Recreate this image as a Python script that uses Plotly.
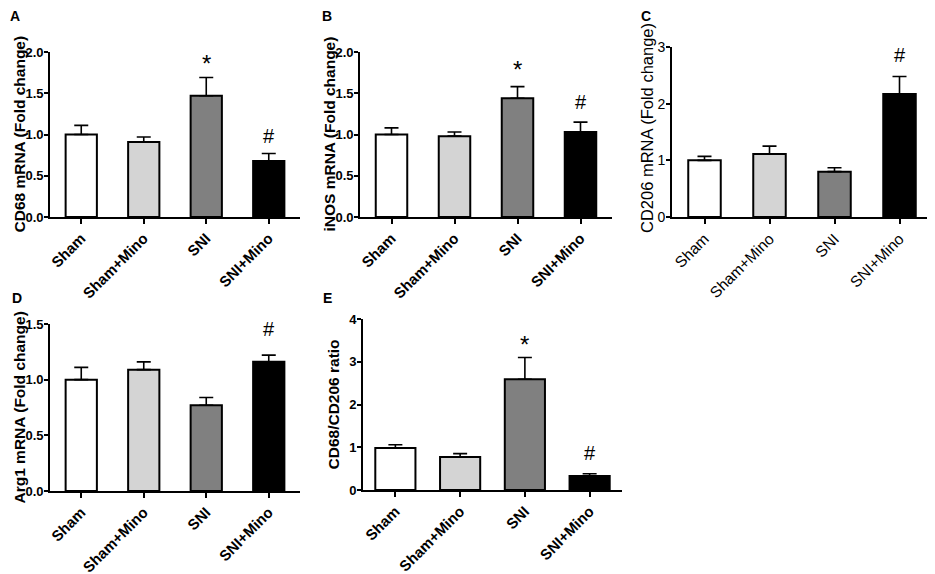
import plotly.graph_objects as go

W, H = 935, 574
OFF = 8  # page body margin offset of the rendered figure
FONT = "Arial, Liberation Sans, sans-serif"

categories = ["Sham", "Sham+Mino", "SNI", "SNI+Mino"]
bar_colors = ["#ffffff", "#d4d4d4", "#808080", "#000000"]

cd68_mean = [1.00, 0.91, 1.47, 0.68]
cd68_sem = [0.11, 0.06, 0.22, 0.09]
cd68_marks = ["", "", "*", "#"]

inos_mean = [1.00, 0.98, 1.44, 1.03]
inos_sem = [0.08, 0.05, 0.14, 0.12]
inos_marks = ["", "", "*", "#"]

cd206_mean = [1.00, 1.11, 0.80, 2.17]
cd206_sem = [0.07, 0.14, 0.07, 0.31]
cd206_marks = ["", "", "", "#"]

arg1_mean = [1.00, 1.09, 0.77, 1.16]
arg1_sem = [0.11, 0.07, 0.07, 0.06]
arg1_marks = ["", "", "", "#"]

ratio_mean = [0.98, 0.77, 2.59, 0.33]
ratio_sem = [0.08, 0.08, 0.51, 0.05]
ratio_marks = ["", "", "*", "#"]

panels = [
    dict(letter="A", title="CD68 mRNA (Fold change)", mean=cd68_mean, sem=cd68_sem, marks=cd68_marks,
         xd=(50, 300), yd=(52, 217), yr=(0, 2), dt=0.5, fmt=".1f", bold=True,
         lp=(15, 16), tx=19, ty=134.5, bw=0.5, shift={"*": -1, "#": 4}),
    dict(letter="B", title="iNOS mRNA (Fold change)", mean=inos_mean, sem=inos_sem, marks=inos_marks,
         xd=(360, 612), yd=(52, 217), yr=(0, 2), dt=0.5, fmt=".1f", bold=True,
         lp=(327, 16), tx=329, ty=134.5, bw=0.5, shift={"*": 2, "#": 7}),
    dict(letter="C", title="CD206 mRNA (Fold change)", mean=cd206_mean, sem=cd206_sem, marks=cd206_marks,
         xd=(672, 932), yd=(47, 217), yr=(0, 3), dt=1, fmt="d", bold=False,
         lp=(646, 16), tx=647, ty=128, bw=0.5, shift={"#": 8}),
    dict(letter="D", title="Arg1 mRNA (Fold change)", mean=arg1_mean, sem=arg1_sem, marks=arg1_marks,
         xd=(50, 300), yd=(324, 491), yr=(0, 1.5), dt=0.5, fmt=".1f", bold=True,
         lp=(17, 298), tx=19, ty=407.5, bw=0.5, shift={"#": 13}),
    dict(letter="E", title="CD68/CD206 ratio", mean=ratio_mean, sem=ratio_sem, marks=ratio_marks,
         xd=(363, 622), yd=(319, 490), yr=(0, 4), dt=1, fmt="d", bold=True,
         lp=(327, 298), tx=333, ty=404.5, bw=0.62, shift={"*": -3, "#": 8}),
]


def fx(px):
    return (px - OFF) / W


def fy(py):
    return 1 - (py - OFF) / H


fig = go.Figure()
annotations = []
layout = {}

for i, p in enumerate(panels, start=1):
    xa = "x" if i == 1 else f"x{i}"
    ya = "y" if i == 1 else f"y{i}"
    weight = "bold" if p["bold"] else "normal"
    fig.add_trace(go.Bar(
        x=categories, y=p["mean"], xaxis=xa, yaxis=ya, width=p["bw"],
        marker=dict(color=bar_colors, line=dict(color="black", width=2)),
        error_y=dict(type="data", array=p["sem"], arrayminus=[0] * 4, symmetric=False,
                     color="black", thickness=1.6, width=7),
        showlegend=False, hoverinfo="skip",
    ))
    xkey = "xaxis" if i == 1 else f"xaxis{i}"
    ykey = "yaxis" if i == 1 else f"yaxis{i}"
    layout[xkey] = dict(
        domain=[fx(p["xd"][0]), fx(p["xd"][1])], anchor=ya, type="category",
        range=[-0.5, 3.5], showline=True, linecolor="black", linewidth=1.6,
        ticks="outside", ticklen=5, tickwidth=1.6, tickcolor="black",
        tickangle=-45, showgrid=False, zeroline=False, automargin=False,
        tickfont=dict(family=FONT, size=15 if p["bold"] else 15.5, color="black", weight=weight),
    )
    layout[ykey] = dict(
        domain=[fy(p["yd"][1]), fy(p["yd"][0])], anchor=xa,
        range=list(p["yr"]), dtick=p["dt"], tick0=0, tickformat=p["fmt"],
        showline=True, linecolor="black", linewidth=1.6,
        ticks="outside", ticklen=4, tickwidth=1.6, tickcolor="black",
        ticklabelstandoff=-2,
        showgrid=False, zeroline=False, automargin=False,
        tickfont=dict(family=FONT, size=13 if p["bold"] else 14, color="black", weight=weight),
    )
    # y-axis title
    annotations.append(dict(
        text=p["title"], xref="paper", yref="paper",
        x=fx(p["tx"]), y=fy(p["ty"]),
        textangle=-90, showarrow=False, xanchor="center", yanchor="middle",
        font=dict(family=FONT, size=15.5 if p["bold"] else 16.5, color="black", weight=weight),
    ))
    # panel letter
    annotations.append(dict(
        text=p["letter"], xref="paper", yref="paper",
        x=fx(p["lp"][0]), y=fy(p["lp"][1]), showarrow=False,
        xanchor="center", yanchor="middle",
        font=dict(family=FONT, size=14, color="black", weight="bold"),
    ))
    # significance marks
    for c, m, s, mk in zip(categories, p["mean"], p["sem"], p["marks"]):
        if mk:
            annotations.append(dict(
                text=mk, xref=xa, yref=ya, x=c, y=m + s, showarrow=False,
                xanchor="center", yanchor="bottom", yshift=p["shift"][mk],
                font=dict(family=FONT, size=24 if mk == "*" else 20, color="black"),
            ))

fig.update_layout(
    width=W, height=H, margin=dict(l=0, r=0, t=0, b=0, pad=0, autoexpand=False),
    paper_bgcolor="white", plot_bgcolor="white",
    font=dict(family=FONT, color="black"),
    annotations=annotations, bargap=0.5,
    **layout,
)

fig.write_html("out.html")
